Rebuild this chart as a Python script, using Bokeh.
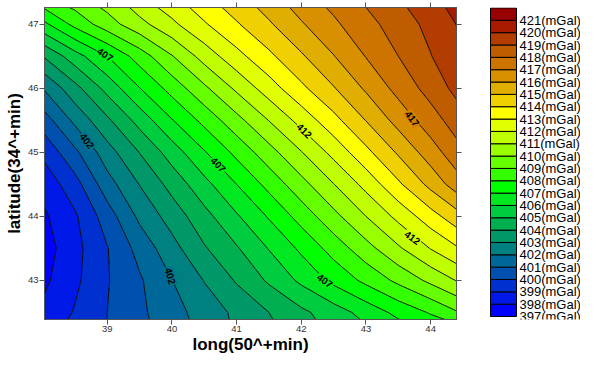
import numpy as np
from bokeh.plotting import figure
from bokeh.models import Range1d, LinearAxis, FixedTicker, LabelSet, ColumnDataSource
from bokeh.layouts import row
from bokeh.embed import file_html
from bokeh.resources import INLINE
from bokeh.core.properties import value

# ---- data ----
grid_x = [38.0, 38.5, 39.0, 39.5, 40.0, 40.5, 41.0, 41.5, 42.0, 42.5, 43.0, 43.5, 44.0, 44.5]
grid_y = [42.0, 42.5, 43.0, 43.5, 44.0, 44.5, 45.0, 45.5, 46.0, 46.5, 47.0, 47.5]

z_420 = [398.65, 399.76, 400.0, 400.7, 401.31, 402.19, 403.04, 403.64, 404.28, 405.02, 405.37, 405.83, 406.42, 406.5]
z_425 = [398.2, 399.08, 400.0, 400.79, 401.63, 402.42, 403.22, 404.0, 404.78, 405.52, 406.37, 407.29, 408.1, 409.1]
z_430 = [397.75, 398.78, 399.93, 400.87, 401.98, 403.04, 404.1, 405.15, 406.21, 407.26, 408.25, 409.24, 410.24, 411.24]
z_435 = [397.5, 398.68, 399.95, 401.35, 402.64, 403.9, 404.9, 406.05, 407.2, 408.41, 409.62, 410.85, 412.04, 413.1]
z_440 = [397.8, 398.85, 400.5, 402.22, 403.43, 404.66, 405.88, 407.1, 408.4, 409.7, 411.0, 412.28, 413.58, 414.87]
z_445 = [398.3, 399.6, 401.58, 403.03, 404.35, 405.68, 407.0, 408.32, 409.65, 410.97, 412.32, 413.82, 415.3, 416.8]
z_450 = [399.2, 400.77, 402.57, 404.03, 405.47, 406.91, 408.27, 409.61, 410.95, 412.31, 413.73, 415.14, 416.53, 417.87]
z_455 = [400.45, 402.25, 403.81, 405.38, 406.94, 408.3, 409.67, 411.03, 412.37, 413.68, 415.03, 416.37, 417.55, 418.7]
z_460 = [402.0, 403.67, 405.33, 406.97, 408.39, 409.8, 411.2, 412.52, 413.78, 414.93, 416.15, 417.33, 418.39, 419.5]
z_465 = [404.0, 405.57, 407.0, 408.47, 409.94, 411.41, 412.67, 413.78, 414.87, 415.96, 417.04, 418.0, 418.96, 419.92]
z_470 = [406.7, 408.3, 409.55, 410.67, 411.78, 412.89, 413.9, 414.87, 415.9, 416.82, 417.67, 418.46, 419.3, 420.2]
z_475 = [409.2, 409.9, 410.8, 412.07, 412.97, 413.97, 414.86, 415.79, 416.77, 417.49, 418.3, 419.06, 419.88, 420.6]

levels = list(range(397, 423))
level_labels = [f"{v}(mGal)" for v in range(397, 422)]
band_colors = ["#0000FF", "#0018E8", "#0030D0", "#0050B0", "#006898", "#008080", "#009868",
               "#00B050", "#00CC40", "#00E820", "#00FF00", "#33FF00", "#66FF00", "#99FF00",
               "#C0FF00", "#E0FF00", "#FFFF00", "#F0D000", "#E0AE00", "#D89000", "#CC7300",
               "#BF5C00", "#B33C00", "#A81A00", "#990000"]

x_ticks = [39, 40, 41, 42, 43, 44]
y_ticks = [43, 44, 45, 46, 47]

label_x = [38.97, 40.72, 42.37, 38.69, 39.98, 42.05, 43.72, 43.72]
label_y = [46.53, 44.81, 43.0, 45.18, 43.07, 45.34, 43.67, 45.53]
label_text = ["407", "407", "407", "402", "402", "412", "412", "417"]
label_angle = [-33, -46, -36, -53, -74, -45, -36, -52]
label_bg = ["#00F410", "#00F410", "#00F410", "#00748C", "#00748C", "#D0FF00", "#D0FF00", "#D28200"]

# ---- main figure ----
Z = np.array([z_420, z_425, z_430, z_435, z_440, z_445, z_450, z_455, z_460, z_465, z_470, z_475])
FONT = "Liberation Sans"

p = figure(width=466, height=357, output_backend="svg", toolbar_location=None,
           x_range=Range1d(38.03, 44.40), y_range=Range1d(42.39, 47.26),
           min_border_left=44, min_border_right=10, min_border_top=7, min_border_bottom=38)
p.xgrid.visible = False
p.ygrid.visible = False
p.outline_line_color = "#555555"
p.background_fill_color = "white"

p.contour(x=grid_x, y=grid_y, z=Z, levels=levels, fill_color=band_colors,
          line_color="black", line_width=0.9)

p.text(x=label_x, y=label_y, text=label_text, angle=label_angle, angle_units="deg",
       text_align="center", text_baseline="middle", text_font_size="10px",
       text_font_style="bold", text_font=value(FONT), text_color="black",
       background_fill_color=label_bg, padding=1)

def style_axis(ax, show_labels=True):
    ax.major_tick_out = 5
    ax.major_tick_in = 0
    ax.minor_tick_out = 0
    ax.minor_tick_in = 0
    ax.axis_line_color = "#555555"
    ax.major_tick_line_color = "#555555"
    ax.major_label_text_font = FONT
    if show_labels:
        ax.major_label_text_color = "#333333"
        ax.major_label_text_font_size = "9.5px"
        ax.major_label_standoff = 1
    else:
        ax.major_label_text_color = None
        ax.major_label_text_font_size = "1px"
        ax.major_label_standoff = 0

xa = p.xaxis[0]
ya = p.yaxis[0]
xa.ticker = FixedTicker(ticks=x_ticks)
ya.ticker = FixedTicker(ticks=y_ticks)
style_axis(xa)
style_axis(ya)
xa.axis_label = "long(50^+min)"
ya.axis_label = "latitude(34^+min)"
for ax in (xa, ya):
    ax.axis_label_text_font = FONT
    ax.axis_label_text_font_style = "bold"
    ax.axis_label_text_font_size = "17px"
    ax.axis_label_text_color = "black"
xa.axis_label_standoff = 0
ya.axis_label_standoff = 1

top = LinearAxis(ticker=FixedTicker(ticks=x_ticks))
right = LinearAxis(ticker=FixedTicker(ticks=y_ticks))
style_axis(top, False)
style_axis(right, False)
p.add_layout(top, "above")
p.add_layout(right, "right")

# ---- colour-bar legend (its frame is aligned with the main frame by the row) ----
p2 = figure(width=114, height=357, output_backend="svg", toolbar_location=None,
            x_axis_location=None, y_axis_location=None,
            x_range=Range1d(0, 114), y_range=Range1d(396.757, 422.04),
            min_border_left=0, min_border_right=0, min_border_top=7, min_border_bottom=38)
p2.xgrid.visible = False
p2.ygrid.visible = False
p2.outline_line_color = None
p2.quad(left=24, right=50, bottom=levels[:-1], top=levels[1:], fill_color=band_colors,
        line_color="black", line_width=1)
legend_src = ColumnDataSource(data=dict(y=levels[:-1], text=level_labels))
p2.add_layout(LabelSet(x=53, y="y", text="text", source=legend_src,
                       text_align="left", text_baseline="middle",
                       text_font_size="13px", text_font=value(FONT), text_color="black"))

layout = row(p, p2)
open("out.html", "w").write(file_html(layout, INLINE))
